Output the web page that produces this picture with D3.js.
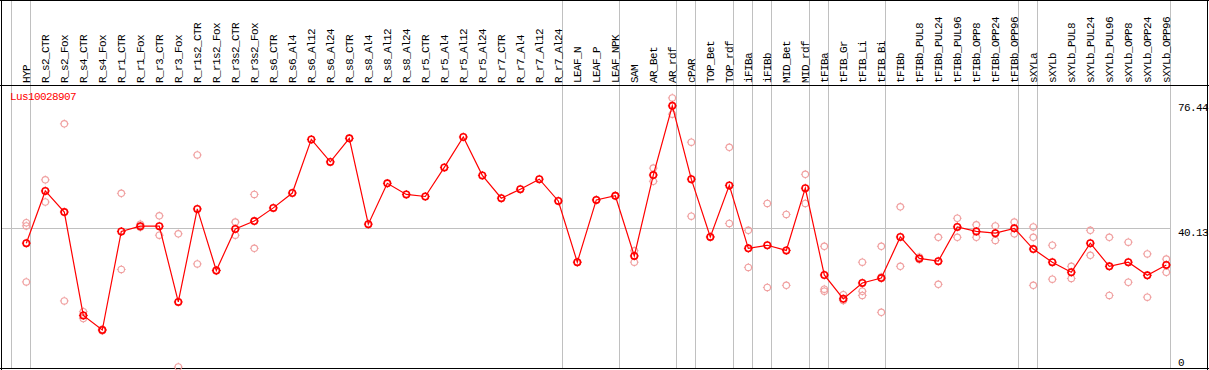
<!DOCTYPE html>
<html><head><meta charset="utf-8">
<script src="https://cdn.jsdelivr.net/npm/d3@7"></script>
<style>html,body{margin:0;padding:0;background:#fff;}svg{display:block;}</style>
</head><body><svg id="c" width="1209" height="370"></svg>
<script>
const title = "Lus10028907";
const categories = ["HYP","R_s2_CTR","R_s2_Fox","R_s4_CTR","R_s4_Fox","R_r1_CTR","R_r1_Fox","R_r3_CTR","R_r3_Fox","R_r1s2_CTR","R_r1s2_Fox","R_r3s2_CTR","R_r3s2_Fox","R_s6_CTR","R_s6_Al4","R_s6_Al12","R_s6_Al24","R_s8_CTR","R_s8_Al4","R_s8_Al12","R_s8_Al24","R_r5_CTR","R_r5_Al4","R_r5_Al12","R_r5_Al24","R_r7_CTR","R_r7_Al4","R_r7_Al12","R_r7_Al24","LEAF_N","LEAF_P","LEAF_NPK","SAM","AR_Bet","AR_rdf","cPAR","TOP_Bet","TOP_rdf","iFIBa","iFIBb","MID_Bet","MID_rdf","tFIBa","tFIB_Gr","tFIB_Li","tFIB_Bi","tFIBb","tFIBb_PUL8","tFIBb_PUL24","tFIBb_PUL96","tFIBb_OPP8","tFIBb_OPP24","tFIBb_OPP96","sXYLa","sXYLb","sXYLb_PUL8","sXYLb_PUL24","sXYLb_PUL96","sXYLb_OPP8","sXYLb_OPP24","sXYLb_OPP96"];
const means = [35.8,50.9,44.8,14.9,10.7,39.2,40.7,40.7,18.8,45.7,27.9,39.9,42.2,46.0,50.3,65.8,59.3,66.1,41.3,53.1,49.9,49.3,57.7,66.5,55.4,48.8,51.4,54.3,48.0,30.3,48.3,49.5,32.1,55.5,75.5,54.3,37.6,52.5,34.3,35.2,33.7,51.7,26.6,19.7,24.3,25.7,37.6,31.4,30.6,40.5,39.2,38.7,40.1,34.1,30.3,27.4,35.8,29.1,30.3,26.5,29.5];
const replicates = [
 [41.7,40.8,24.6],[54.1,47.7],[70.3,19.1],[16.0,14.0],[10.9,10.5],[50.2,28.2],[41.3,40.4],[43.7,38.1],[38.5,0.0],[61.3,29.8],[28.0,27.8],[41.9,38.1],[49.9,34.3],
 [],[],[],[],[],[],[],[],[],[],[],[],[],[],[],[],
 [30.3],[48.3],[49.5],[33.6,30.3],[57.5,53.7],[77.8,73.1],[65.0,43.6],[37.6],[63.5,41.5],[39.5,28.8],[47.3,23.0],[44.1,23.6],[55.7,47.3],
 [34.9,22.5,21.9],[20.9,19.2],[30.3,21.9,20.7],[34.9,26.0,15.8],[46.3,29.1],[31.8,31.1],[37.5,23.9],[43.0,37.5],[41.1,37.5],[40.8,36.6],[41.9,38.5],
 [40.5,37.5,23.6],[35.2,25.4],[29.1,25.6],[39.5,32.3],[37.5,20.7],[36.1,24.5],[32.7,20.2],[31.2,27.4]
];
const groupEnds = [-1,0,28,31,34,35,37,38,39,41,42,45,52,53,60];
const yTicks = [76.44,40.13,0];
const yGrid = [40.13];

const svg = d3.select("#c");
const W = 1209, H = 370;
const x = d3.scalePoint().domain(categories).range([26.3,1166.3]);
const step = x.step();
const xi = i => 26.3 + i*step;
const y = d3.scaleLinear().domain([0,76.44]).range([367,102.6]);
const font = "'Liberation Mono', 'DejaVu Sans Mono', monospace";
const fs = 11, ls = -0.6;

// vertical group separators
svg.append("g").selectAll("line").data(groupEnds).join("line")
  .attr("x1", d => Math.round(xi(d)+4)+0.5).attr("x2", d => Math.round(xi(d)+4)+0.5)
  .attr("y1", 0).attr("y2", 369)
  .attr("stroke", "#c0c0c0").attr("stroke-width", 1);
// horizontal grid
svg.append("g").selectAll("line").data(yGrid).join("line")
  .attr("x1", 1).attr("x2", xi(60)+4)
  .attr("y1", d => Math.round(y(d))+0.5).attr("y2", d => Math.round(y(d))+0.5)
  .attr("stroke", "#c0c0c0").attr("stroke-width", 1);

// frame
const frame = svg.append("g").attr("stroke","#000").attr("shape-rendering","crispEdges");
frame.append("line").attr("x1",0).attr("x2",W).attr("y1",0.5).attr("y2",0.5);
frame.append("line").attr("x1",0).attr("x2",W).attr("y1",85.5).attr("y2",85.5).attr("stroke-width",1.5);
frame.append("line").attr("x1",0).attr("x2",W).attr("y1",368.5).attr("y2",368.5).attr("stroke-width",1.5);
frame.append("line").attr("x1",1.5).attr("x2",1.5).attr("y1",0).attr("y2",H).attr("stroke-width",1.5);
frame.append("line").attr("x1",1207.5).attr("x2",1207.5).attr("y1",0).attr("y2",H).attr("stroke-width",1.5);

// category labels
svg.append("g").selectAll("text").data(categories).join("text")
  .attr("transform", d => `translate(${Math.round(x(d)+3.5)},83) rotate(-90)`)
  .attr("font-family", font).attr("font-size", fs).attr("letter-spacing", ls).attr("fill", "#000")
  .text(d => d);

// y labels
svg.append("g").selectAll("text").data(yTicks).join("text")
  .attr("x", 1178)
  .attr("y", d => d === 0 ? y(d) - 1 : y(d) + 8)
  .attr("font-family", font).attr("font-size", fs).attr("letter-spacing", ls).attr("fill", "#000")
  .text(d => d);

// title
svg.append("text").attr("x", 10).attr("y", 100)
  .attr("font-family", font).attr("font-size", fs).attr("letter-spacing", ls).attr("fill", "#ff0000").text(title);

function marker(g, cx, cy, color, sw, r) {
  g.append("circle").attr("cx", cx).attr("cy", cy).attr("r", r)
    .attr("fill", "none").attr("stroke", color).attr("stroke-width", sw);
  const t = [[0,-1],[0,1],[-1,0],[1,0]];
  t.forEach(([dx,dy]) => g.append("line")
    .attr("x1", cx+dx*r).attr("y1", cy+dy*r).attr("x2", cx+dx*(r+1.2)).attr("y2", cy+dy*(r+1.2))
    .attr("stroke", color).attr("stroke-width", 1));
}

// replicates
const rg = svg.append("g");
replicates.forEach((arr, i) => arr.forEach(v => marker(rg, x(categories[i]), y(v), "#f0a0a0", 1.1, 3.2)));

// mean line
const line = d3.line().x((d,i) => x(categories[i])).y(d => y(d));
svg.append("path").datum(means).attr("d", line)
  .attr("fill","none").attr("stroke","#ff0000").attr("stroke-width",1.2);

const mg = svg.append("g");
means.forEach((v, i) => marker(mg, x(categories[i]), y(v), "#ff0000", 1.6, 3.2));
</script></body></html>
